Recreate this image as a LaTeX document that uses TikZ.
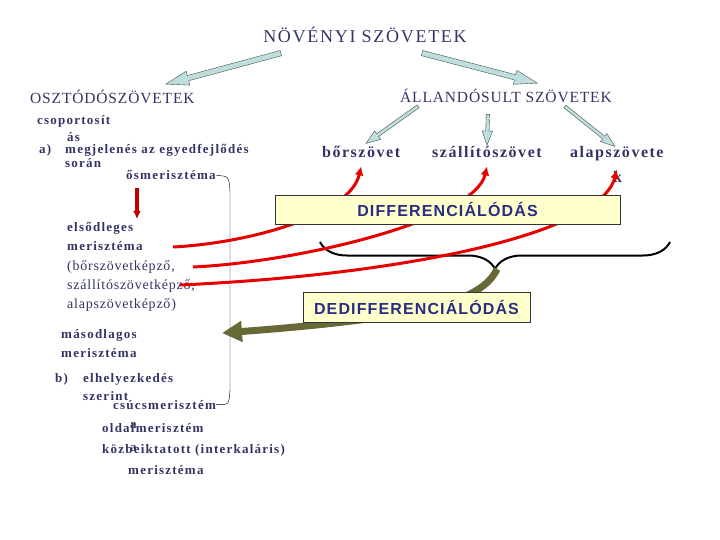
\documentclass[tikz,border=0pt]{standalone}
\usepackage{fontspec}
\setmainfont{Liberation Serif}[LetterSpace=9.5]
\newfontfamily\widefont{Liberation Serif}[LetterSpace=5.5]
\newfontfamily\boxfont{Liberation Sans}[LetterSpace=7]
\usetikzlibrary{arrows.meta,shapes.arrows,decorations.pathreplacing}
\definecolor{navy}{RGB}{51,51,102}
\definecolor{boxblue}{RGB}{40,45,130}
\definecolor{boxfill}{RGB}{255,255,204}
\definecolor{arrowfill}{RGB}{190,222,222}
\definecolor{arrowedge}{RGB}{70,80,80}
\definecolor{oliveline}{RGB}{105,105,55}
\definecolor{redline}{RGB}{230,0,0}
\definecolor{darkred}{RGB}{190,0,0}
\tikzset{
  txt/.style={anchor=base west, inner sep=0pt, text=navy, font=\widefont\fontsize{14}{16}\selectfont},
  btxt/.style={txt, font=\bfseries\fontsize{13}{15}\selectfont},
  cat/.style={txt, font=\widefont\fontsize{15.5}{18}\selectfont},
  tissue/.style={txt, font=\bfseries\fontsize{16}{18}\selectfont},
  diffbox/.style={draw=black!80, fill=boxfill, text=boxblue, inner sep=0pt, font=\boxfont\bfseries\fontsize{16}{18}\selectfont},
  bigarrow/.style={single arrow, draw=arrowedge, fill=arrowfill, thin, sloped, allow upside down, inner xsep=0pt, inner ysep=2.5pt, minimum width=14pt, single arrow head extend=4.5pt, single arrow tip angle=35},
  smallarrow/.style={bigarrow, inner ysep=1.5pt, minimum width=10pt, single arrow head extend=3.5pt, single arrow tip angle=40},
  redarrow/.style={redline, line width=3pt, -{Latex[length=9pt,width=9pt]}}
}
\begin{document}
\begin{tikzpicture}[x=1pt,y=-1pt]
  \useasboundingbox (0,0) rectangle (720,540);

  \node[txt, anchor=base, font=\fontsize{18}{20}\selectfont] (root) at (365,43) {NÖVÉNYI SZÖVETEK};
  \node[cat] (oszt) at (30,104) {OSZTÓDÓSZÖVETEK};
  \node[cat] (alland) at (400,103) {ÁLLANDÓSULT SZÖVETEK};

  \node[tissue] (bor) at (322,158) {bőrszövet};
  \node[tissue] (szall) at (432,158) {szállítószövet};
  \node[tissue] (alap) at (570,158) {alapszövete};
  \node[tissue] (alapk) at (613,183) {k};

  \coordinate (h1s) at (285,52);
  \coordinate (h1e) at (170,83);
  \coordinate (h2s) at (418,52);
  \coordinate (h2e) at (533,82);
  \coordinate (h3s) at (420,105);
  \coordinate (h3e) at (368,142);
  \coordinate (h4s) at (488,112);
  \coordinate (h4e) at (487,143);
  \coordinate (h5s) at (563,105);
  \coordinate (h5e) at (613,145);
  \path (h1s) -- (h1e) node[bigarrow, midway, minimum height=119pt] {};
  \path (h2s) -- (h2e) node[bigarrow, midway, minimum height=119pt] {};
  \path (h3s) -- (h3e) node[smallarrow, midway, minimum height=64pt] {};
  \path (h4s) -- (h4e) node[smallarrow, midway, minimum height=31pt] {};
  \path (h5s) -- (h5e) node[smallarrow, midway, minimum height=64pt] {};

  \node[btxt] (csop) at (37,125) {csoportosít};
  \node[btxt] (as) at (67,142) {ás};
  \node[btxt] (pa) at (39,154) {a)};
  \node[btxt] (megj) at (65,154) {megjelenés az egyedfejlődés};
  \node[btxt] (soran) at (65,168) {során};
  \node[btxt] (osm) at (126,180) {ősmerisztéma};

  \node[btxt] (elso1) at (67,232) {elsődleges};
  \node[btxt] (elso2) at (67,251) {merisztéma};
  \node[txt] (kepzo1) at (67,270) {(bőrszövetképző,};
  \node[txt] (kepzo2) at (67,289) {szállítószövetképző,};
  \node[txt] (kepzo3) at (67,308) {alapszövetképző)};

  \node[btxt] (masod1) at (61,338) {másodlagos};
  \node[btxt] (masod2) at (61,357) {merisztéma};
  \node[btxt] (pb) at (55,382) {b)};
  \node[btxt] (elhely) at (83,382) {elhelyezkedés};
  \node[btxt] (szerint) at (83,400) {szerint};
  \node[btxt] (csucs) at (113,409) {csúcsmerisztém};
  \node[btxt] (csucsa) at (130,428) {a};
  \node[btxt] (oldal) at (102,432) {oldalmerisztém};
  \node[btxt] (oldala) at (130,451) {a};
  \node[btxt] (kozb) at (102,453) {közbeiktatott (interkaláris)};
  \node[btxt] (kozb2) at (128,474) {merisztéma};

  \draw[thin] (osm.east) .. controls (229,176) .. (230,192) -- (230,390) .. controls (229,405) .. (csucs.east);

  \coordinate (dr1) at (137,188);
  \coordinate (dr2) at (137,219);
  \draw[darkred, line width=3.5pt, -{Latex[length=8pt,width=8pt]}] (dr1) -- (dr2);

  \coordinate (brl) at (320,242);
  \coordinate (brr) at (670,242);
  \coordinate (brtip) at (497,269);
  \draw[line width=2pt, decorate, decoration={brace, mirror, amplitude=27pt}] (brl) -- (brr);

  \coordinate (olend) at (222,333);
  \draw[oliveline, line width=7pt, -{Triangle[length=20pt,width=20pt]}] (brtip) .. controls (482,302) and (420,318) .. (olend);

  \coordinate (r1) at (173,247);
  \coordinate (r2) at (193,267);
  \coordinate (r3) at (180,285);
  \draw[redarrow] (r1) .. controls (250,243) and (350,215) .. ([yshift=-8pt]bor.south);
  \draw[redarrow] (r2) .. controls (300,262) and (475,220) .. ([yshift=-8pt]szall.south);
  \draw[redarrow] (r3) .. controls (400,275) and (600,235) .. ([yshift=-8pt]alap.south);

  \node[diffbox, minimum width=345pt, minimum height=29pt] (diff) at (447.5,209.5) {DIFFERENCIÁLÓDÁS};
  \node[diffbox, minimum width=227pt, minimum height=30pt] (dediff) at (416.5,307) {DEDIFFERENCIÁLÓDÁS};
\end{tikzpicture}
\end{document}
